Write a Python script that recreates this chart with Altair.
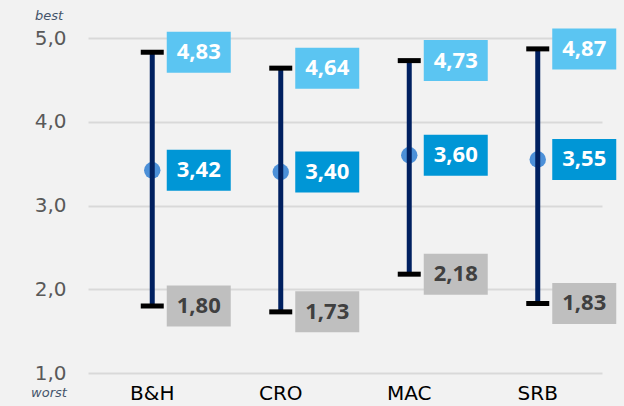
import altair as alt
import pandas as pd

# Ratings per country: lowest, average and highest score on a 1-5 scale
countries = ["B&H", "CRO", "MAC", "SRB"]
min_scores = [1.80, 1.73, 2.18, 1.83]
mean_scores = [3.42, 3.40, 3.60, 3.55]
max_scores = [4.83, 4.64, 4.73, 4.87]

y_ticks = [1, 2, 3, 4, 5]
scale_ends = ["worst", "best"]
scale_end_values = [1, 5]

df = pd.DataFrame({
    "country": countries,
    "lo": min_scores,
    "mean": mean_scores,
    "hi": max_scores,
})

FONT = "DejaVu Sans"
LABEL_FONT = "Open Sans"
W, H = 514, 335
BOX_DX = 46.5
# unit-square box path, 64 x 41 px at size 4096
BOX = "M-1,-0.640625L1,-0.640625L1,0.640625L-1,0.640625Z"

x_enc = alt.X(
    "country:N",
    sort=countries,
    scale=alt.Scale(paddingInner=0, paddingOuter=0),
    axis=alt.Axis(
        title=None, labelAngle=0, domain=False, ticks=False, grid=False,
        labelFont=FONT, labelFontSize=20, labelColor="#000000", labelPadding=10,
    ),
)
y_scale = alt.Scale(domain=[1, 5], nice=False, zero=False)
y_axis = alt.Axis(
    values=y_ticks, domain=False, ticks=False, grid=True,
    gridColor="#d9d9d9", gridWidth=2,
    labelFont=FONT, labelFontSize=20, labelColor="#595959", labelPadding=22,
    labelExpr="replace(format(datum.value, '.1f'), '.', ',')",
)


def y_enc(field):
    return alt.Y(f"{field}:Q", scale=y_scale, axis=y_axis, title=None)


base = alt.Chart(df).encode(x=x_enc)

dots = base.mark_circle(size=270, color="#2f7fd3", opacity=0.85).encode(y=y_enc("mean"))

bars = base.mark_rule(color="#002060", strokeWidth=5).encode(
    y=y_enc("lo"), y2="hi:Q"
)

cap_lo = base.mark_tick(color="#000000", thickness=5, size=23, opacity=1).encode(y=y_enc("lo"))
cap_hi = base.mark_tick(color="#000000", thickness=5, size=23, opacity=1).encode(y=y_enc("hi"))


def label_layer(field, box_color, text_color):
    boxes = base.mark_point(
        shape=BOX, size=4096, filled=True, fill=box_color, opacity=1,
        strokeWidth=0, xOffset=BOX_DX,
    ).encode(y=y_enc(field))
    texts = base.transform_calculate(
        txt=f"replace(format(datum['{field}'], '.2f'), '.', ',')"
    ).mark_text(
        dx=BOX_DX, font=LABEL_FONT, fontSize=22, fontWeight="bold",
        color=text_color, align="center", baseline="middle",
    ).encode(y=y_enc(field), text="txt:N")
    return boxes + texts


ends = pd.DataFrame({"label": scale_ends, "v": scale_end_values})


def end_label(name, dy):
    return alt.Chart(ends).transform_filter(
        alt.datum.label == name
    ).mark_text(
        font=FONT, fontSize=13, fontStyle="italic", color="#44546a",
        align="center", baseline="middle", dy=dy,
    ).encode(x=alt.value(-39), y=y_enc("v"), text="label:N")


chart = alt.layer(
    dots, bars, cap_lo, cap_hi,
    label_layer("hi", "#5bc5f2", "#ffffff"),
    label_layer("mean", "#0096d6", "#ffffff"),
    label_layer("lo", "#bfbfbf", "#404040"),
    end_label("best", -22),
    end_label("worst", 20),
).properties(
    width=W, height=H,
    background="#f2f2f2",
    padding={"left": 88, "top": 38, "right": 22, "bottom": 33},
    autosize=alt.AutoSizeParams(type="none"),
).configure_view(stroke=None)

chart.save("out.html", embed_options={"renderer": "svg", "actions": False})
